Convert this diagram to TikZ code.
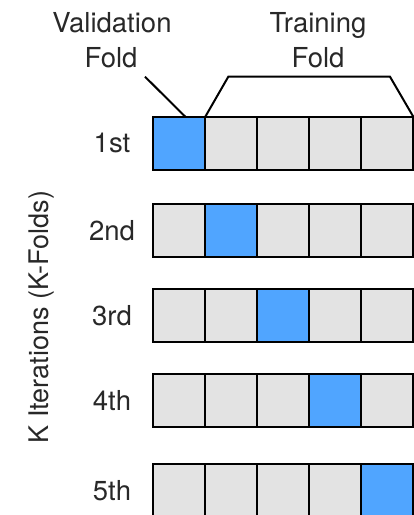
\documentclass[tikz,border=0pt]{standalone}
\usepackage{fontspec}
\setmainfont{TeX Gyre Heros}
\usetikzlibrary{calc}
\definecolor{foldblue}{RGB}{80,165,255}
\definecolor{foldgray}{RGB}{227,227,227}
\definecolor{txt}{RGB}{40,40,40}
\begin{document}
\begin{tikzpicture}[x=1pt,y=-1pt,
  cell/.style={draw=black,line width=2pt,fill=foldgray,minimum width=52pt,minimum height=53pt,inner sep=0pt,outer sep=0pt},
  valcell/.style={cell,fill=foldblue},
  lbl/.style={font=\fontsize{27.5}{30}\selectfont,text=txt,inner sep=0pt},
  rowlbl/.style={font=\fontsize{27.5}{30}\selectfont,text=txt,inner sep=0pt},
  sidelbl/.style={font=\fontsize{27}{30}\selectfont,text=txt,inner sep=0pt},
  link/.style={line width=2pt,draw=black,line join=miter}]
\useasboundingbox (0,0) rectangle (414,515);
\clip (0,0) rectangle (414,515);
\foreach \r/\y/\lab in {1/143.2/1st,2/230.8/2nd,3/315.8/3rd,4/400.5/4th,5/490.5/5th} {
  \node[rowlbl] (l\r) at (112,\y) {\lab};
  \foreach \i in {1,...,5} {
    \pgfmathsetmacro\xx{179.3+52*(\i-1)}
    \ifnum\i=\r
      \node[valcell] (c\r\i) at (\xx,\y) {};
    \else
      \node[cell] (c\r\i) at (\xx,\y) {};
    \fi
  }
}
\node[sidelbl,rotate=90] (klab) at (42,317) {K Iterations (K-Folds)};
\node[lbl,anchor=base] (va) at (112,32.5) {Validation};
\node[lbl,anchor=base] (vb) at (111,67.5) {Fold};
\node[lbl,anchor=base] (ta) at (318,32.5) {Training};
\node[lbl,anchor=base] (tb) at (318,67.5) {Fold};
\coordinate (vfoot) at (145,76.7);
\coordinate (tl) at (228.3,76.7);
\coordinate (tr) at (390,76.7);
\draw[link] (vfoot) -- ($(c11.north)+(6,0)$);
\draw[link] (c12.north west) -- (tl) -- (tr) -- (c15.north east);
\end{tikzpicture}
\end{document}
